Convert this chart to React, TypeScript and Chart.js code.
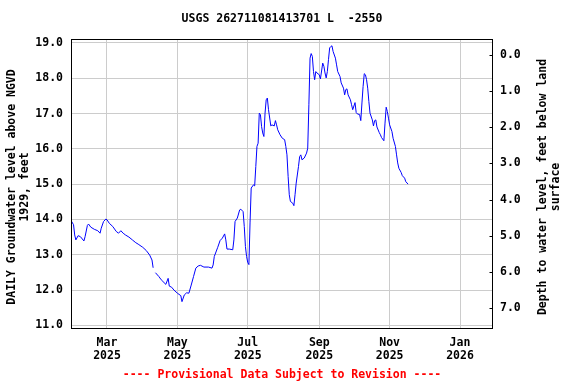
import React, { useEffect, useRef } from "react";
import { Chart, registerables } from "chart.js";

Chart.register(...registerables);

const titleText = "USGS 262711081413701 L  -2550";
const footerText = "---- Provisional Data Subject to Revision ----";
const leftTitle = ["DAILY Groundwater level above NGVD", "1929, feet"];
const rightTitle = ["Depth to water level, feet below land", "surface"];

// x values: days since 2025-01-01
const monthTickDays = [59, 120, 181, 243, 304, 365];
const monthTickLabels = [
  ["Mar", "2025"],
  ["May", "2025"],
  ["Jul", "2025"],
  ["Sep", "2025"],
  ["Nov", "2025"],
  ["Jan", "2026"],
];
const leftTicks = [11, 12, 13, 14, 15, 16, 17, 18, 19];
const rightTicks = [0, 1, 2, 3, 4, 5, 6, 7];

const days = [
  28, 30, 31, 32, 34, 36, 39, 40, 42, 43, 45, 48, 51, 53, 54, 56, 58, 59, 61, 64,
  67, 69, 71, 73, 75, 78, 81, 84, 86, 90, 93, 96, 98, 99, 100, 101, 104, 106, 110, 112,
  113, 115, 117, 120, 123, 124, 126, 128, 130, 132, 134, 136, 138, 140, 143, 147, 150, 151, 152, 155,
  157, 159, 161, 162, 163, 165, 168, 169, 170, 172, 174, 175, 177, 178, 179, 180, 181, 182, 183, 184,
  186, 187, 188, 189, 190, 191, 192, 193, 194, 195, 196, 197, 198, 199, 201, 202, 204, 205, 206, 207,
  209, 211, 213, 214, 215, 216, 217, 218, 220, 221, 222, 223, 225, 226, 227, 228, 230, 232, 233, 234,
  235, 236, 237, 238, 239, 240, 241, 243, 244, 246, 247, 248, 249, 250, 251, 252, 253, 254, 255, 257,
  258, 259, 261, 262, 264, 265, 266, 267, 268, 270, 271, 272, 274, 275, 276, 278, 279, 280, 281, 282,
  283, 284, 285, 286, 287, 289, 290, 291, 292, 293, 295, 296, 297, 299, 300, 301, 302, 303, 304, 306,
  307, 309, 310, 311, 312, 314, 315, 317, 318, 320,
];

const levels: (number | null)[] = [
  13.96, 13.85, 13.56, 13.42, 13.54, 13.51, 13.39, 13.51, 13.83, 13.87, 13.78, 13.72, 13.68, 13.61, 13.75, 13.94, 14.01, 13.99, 13.89, 13.8,
  13.66, 13.61, 13.68, 13.61, 13.56, 13.5, 13.42, 13.34, 13.3, 13.21, 13.12, 12.99, 12.85, 12.63, null, 12.49, 12.38, 12.29, 12.16, 12.33,
  12.11, 12.08, 12.0, 11.91, 11.84, 11.67, 11.86, 11.92, 11.91, 12.14, 12.38, 12.62, 12.68, 12.7, 12.65, 12.65, 12.62, 12.71, 12.95, 13.21,
  13.4, 13.47, 13.59, 13.42, 13.16, 13.16, 13.14, 13.42, 13.94, 14.04, 14.27, 14.29, 14.22, 13.8, 13.23, 12.95, 12.78, 12.72, 13.9, 14.89,
  14.98, 14.95, 15.5, 16.07, 16.16, 17.01, 16.97, 16.63, 16.45, 16.35, 17.01, 17.39, 17.44, 17.11, 16.65, 16.68, 16.65, 16.8, 16.68, 16.54,
  16.4, 16.3, 16.26, 16.07, 15.83, 15.22, 14.7, 14.51, 14.46, 14.39, 14.7, 15.03, 15.5, 15.78, 15.83, 15.69, 15.74, 15.88, 16.02, 17.25,
  18.57, 18.7, 18.62, 18.19, 17.96, 18.19, 18.15, 18.1, 17.98, 18.43, 18.34, 18.15, 18.01, 18.19, 18.53, 18.86, 18.9, 18.92, 18.76, 18.57,
  18.38, 18.19, 18.05, 17.87, 17.72, 17.53, 17.68, 17.7, 17.53, 17.39, 17.25, 17.11, 17.31, 17.03, 16.99, 16.97, 16.8, 17.3, 17.77, 18.13,
  18.1, 17.96, 17.72, 17.34, 17.01, 16.82, 16.65, 16.8, 16.82, 16.62, 16.46, 16.4, 16.32, 16.23, 16.73, 17.18, 17.06, 16.87, 16.68, 16.49,
  16.3, 16.07, 15.83, 15.6, 15.45, 15.33, 15.24, 15.17, 15.07, 15.0,
];

const FONT = '"DejaVu Sans Mono", "Liberation Mono", monospace';

const decorPlugin = {
  id: "decor",
  afterDraw(chart: any) {
    const ctx = chart.ctx as CanvasRenderingContext2D;
    const { left, right, top, bottom } = chart.chartArea;
    ctx.save();
    // plot frame
    ctx.strokeStyle = "#000";
    ctx.lineWidth = 1;
    const l = Math.round(left) + 0.5;
    const r = Math.round(right) - 0.5;
    const t = Math.round(top) + 0.5;
    const b = Math.round(bottom) - 0.5;
    ctx.strokeRect(l, t, r - l, b - t);
    // inward ticks on right axis
    const y2 = chart.scales.y2;
    ctx.beginPath();
    rightTicks.forEach((v) => {
      const py = Math.round(y2.getPixelForValue(v)) + 0.5;
      ctx.moveTo(r - 3, py);
      ctx.lineTo(r, py);
    });
    ctx.stroke();
    // title
    ctx.fillStyle = "#000";
    ctx.font = `bold 11.5px ${FONT}`;
    ctx.textAlign = "center";
    ctx.textBaseline = "middle";
    ctx.fillText(titleText, (left + right) / 2, 19);
    // footer
    ctx.fillStyle = "#ff0000";
    ctx.fillText(footerText, (left + right) / 2, 375);
    // left title
    ctx.fillStyle = "#000";
    const cy = 187;
    [12, 25].forEach((x, i) => {
      ctx.save();
      ctx.translate(x, cy);
      ctx.rotate(-Math.PI / 2);
      ctx.fillText(leftTitle[i], 0, 0);
      ctx.restore();
    });
    [543, 556].forEach((x, i) => {
      ctx.save();
      ctx.translate(x, cy);
      ctx.rotate(-Math.PI / 2);
      ctx.fillText(rightTitle[i], 0, 0);
      ctx.restore();
    });
    ctx.restore();
  },
};

export default function App() {
  const canvasRef = useRef<HTMLCanvasElement | null>(null);

  useEffect(() => {
    document.body.style.margin = "0";
    const canvas = canvasRef.current;
    if (!canvas) return;
    const tickFont = { family: FONT, size: 11.5, weight: "bold" as const, lineHeight: "13px" };
    const chart = new Chart(canvas, {
      type: "line",
      data: {
        datasets: [
          {
            data: days.map((d, i) => ({ x: d, y: levels[i] })) as any,
            borderColor: "#0000ff",
            borderWidth: 1,
            pointRadius: 0,
            tension: 0,
            spanGaps: false,
            yAxisID: "y",
          },
        ],
      },
      options: {
        animation: false,
        responsive: false,
        maintainAspectRatio: false,
        layout: { padding: { top: 39, left: 0, right: 0, bottom: 0 } },
        plugins: {
          legend: { display: false },
          title: { display: false },
          tooltip: { enabled: false },
        },
        scales: {
          x: {
            type: "linear",
            min: 27.8,
            max: 393.6,
            afterBuildTicks: (scale: any) => {
              scale.ticks = monthTickDays.map((v) => ({ value: v }));
            },
            afterFit: (scale: any) => {
              scale.height = 55;
            },
            ticks: {
              autoSkip: false,
              maxRotation: 0,
              padding: 8,
              color: "#000",
              font: tickFont,
              callback: (v: any) => {
                const i = monthTickDays.indexOf(Number(v));
                return i >= 0 ? monthTickLabels[i] : "";
              },
            },
            grid: { color: "#cccccc", drawTicks: false, lineWidth: 1 },
            border: { display: false },
          },
          y: {
            type: "linear",
            position: "left",
            min: 10.895,
            max: 19.113,
            afterBuildTicks: (scale: any) => {
              scale.ticks = leftTicks.map((v) => ({ value: v }));
            },
            afterFit: (scale: any) => {
              scale.width = 71;
            },
            ticks: {
              padding: 8,
              color: "#000",
              font: tickFont,
              callback: (v: any) => Number(v).toFixed(1),
            },
            grid: { color: "#cccccc", drawTicks: false, lineWidth: 1 },
            border: { display: false },
          },
          y2: {
            type: "linear",
            position: "right",
            reverse: true,
            min: -0.434,
            max: 7.571,
            afterBuildTicks: (scale: any) => {
              scale.ticks = rightTicks.map((v) => ({ value: v }));
            },
            afterFit: (scale: any) => {
              scale.width = 83;
            },
            ticks: {
              padding: 7,
              color: "#000",
              font: tickFont,
              callback: (v: any) => Number(v).toFixed(1),
            },
            grid: { drawOnChartArea: false, drawTicks: false },
            border: { display: false },
          },
        },
      },
      plugins: [decorPlugin],
    });
    return () => chart.destroy();
  }, []);

  return (
    <div style={{ width: 576, height: 384 }}>
      <canvas ref={canvasRef} width={576} height={384} style={{ display: "block" }} />
    </div>
  );
}
